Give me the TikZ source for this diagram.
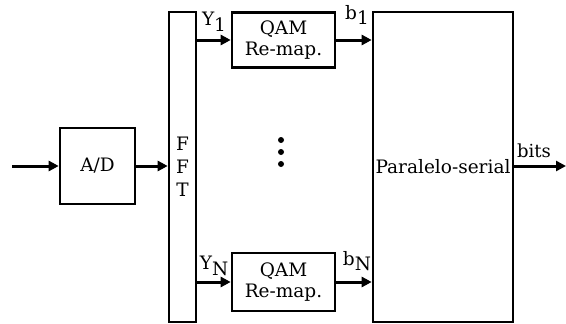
\documentclass[tikz,border=0pt]{standalone}
\usepackage{fontspec}
\setmainfont{DejaVu Serif}
\usetikzlibrary{arrows.meta}
\begin{document}
\begin{tikzpicture}[x=1pt,y=-1pt,
  font=\fontsize{18.5}{21}\selectfont,
  box/.style={draw,line width=2.6pt,inner sep=0pt,align=center},
  arr/.style={line width=3pt,-{Triangle[length=10pt,width=10pt]}},
  lbl/.style={inner sep=0pt}]
\useasboundingbox (0,0) rectangle (566,324);
\node[box,minimum width=75pt,minimum height=76pt] (ad) at (97.5,166) {A/D};
\node[box,minimum width=27pt,minimum height=310pt,font=\fontsize{18.5}{23}\selectfont] (fft) at (182.5,167) {F\\F\\T};
\node[box,minimum width=103pt,minimum height=55pt] (q1) at (283.5,40) {QAM\\Re-map.};
\node[box,minimum width=103pt,minimum height=58pt] (q2) at (283.5,282) {QAM\\Re-map.};
\node[box,minimum width=140pt,minimum height=310pt] (ps) at (443,167) {Paralelo-serial};
\coordinate (in) at (12,166);
\coordinate (out) at (566,166);
\draw[arr] (in) -- (ad.west);
\draw[arr] (ad.east) -- (ad.east -| fft.west);
\draw[arr] (fft.east |- q1.west) -- (q1.west);
\draw[arr] (fft.east |- q2.west) -- (q2.west);
\draw[arr] (q1.east) -- (q1.east -| ps.west);
\draw[arr] (q2.east) -- (q2.east -| ps.west);
\draw[arr] (ps.east |- out) -- (out);
\node[lbl] (y1) at (214,22) {Y\raisebox{-0.3em}{1}};
\node[lbl] (yn) at (214,266) {Y\raisebox{-0.3em}{N}};
\node[lbl] (b1) at (357,15) {b\raisebox{-0.3em}{1}};
\node[lbl] (bn) at (357,261) {b\raisebox{-0.3em}{N}};
\node[lbl,font=\fontsize{18}{20}\selectfont] (bits) at (534,151) {bits};
\foreach \yy/\nm in {140/d1,152/d2,164/d3}
  \fill (281,\yy) circle (3pt) coordinate (\nm);
\end{tikzpicture}
\end{document}
